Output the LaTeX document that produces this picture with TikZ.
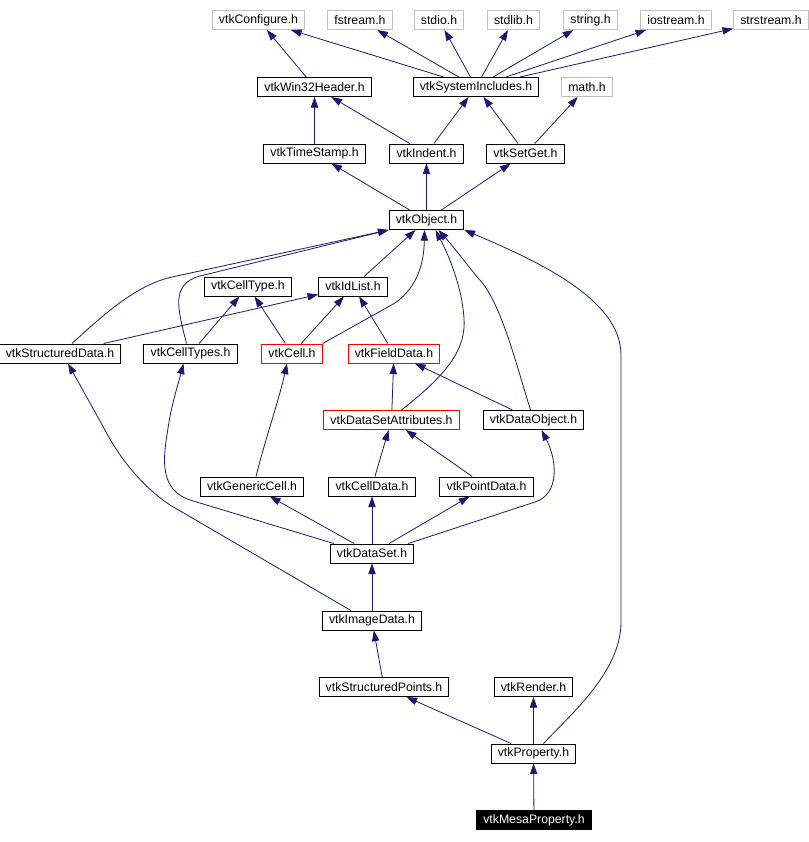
\documentclass[tikz,border=0pt]{standalone}
\usepackage{fontspec}
\setmainfont{Liberation Sans}
\usetikzlibrary{arrows.meta,calc}
\definecolor{dxedge}{HTML}{191970}
\definecolor{dxgray}{HTML}{BFBFBF}
\definecolor{dxred}{HTML}{FF0000}

\begin{document}
\begin{tikzpicture}[x=0.75pt,y=-0.75pt,
  hdr/.style={draw=black, line width=0.75pt, fill=white, inner xsep=5pt, inner ysep=0pt,
    minimum height=14.25pt, font=\fontsize{9.2}{11}\selectfont},
  syshdr/.style={hdr, draw=dxgray},
  badhdr/.style={hdr, draw=dxred},
  tophdr/.style={hdr, fill=black, text=white},
  dep/.style={draw=dxedge, line width=0.6pt, -{Triangle[length=8pt,width=5.5pt]}}]
  \useasboundingbox (0,0) rectangle (809,842);
  % system headers (top row)
  \node[syshdr] (conf) at (258.5,20) {vtkConfigure.h};
  \node[syshdr] (fstream) at (360,20) {fstream.h};
  \node[syshdr] (stdio) at (439,20) {stdio.h};
  \node[syshdr] (stdlib) at (513.5,20) {stdlib.h};
  \node[syshdr] (string) at (590.5,20) {string.h};
  \node[syshdr] (iostream) at (676,20) {iostream.h};
  \node[syshdr] (strstream) at (771,20) {strstream.h};
  % common headers
  \node[hdr] (win32) at (314.5,87) {vtkWin32Header.h};
  \node[hdr] (sysinc) at (476,87) {vtkSystemIncludes.h};
  \node[syshdr] (math) at (587,87) {math.h};
  \node[hdr] (tstamp) at (314.5,153.5) {vtkTimeStamp.h};
  \node[hdr] (indent) at (426.5,153.5) {vtkIndent.h};
  \node[hdr] (setget) at (525.5,153.5) {vtkSetGet.h};
  \node[hdr] (object) at (426.5,220) {vtkObject.h};
  % cells and data
  \node[hdr] (celltype) at (248,286.5) {vtkCellType.h};
  \node[hdr] (idlist) at (353,286.5) {vtkIdList.h};
  \node[hdr] (structdata) at (60,353.5) {vtkStructuredData.h};
  \node[hdr] (celltypes) at (190.5,353.5) {vtkCellTypes.h};
  \node[badhdr] (cell) at (292,353.5) {vtkCell.h};
  \node[badhdr] (fielddata) at (394,353.5) {vtkFieldData.h};
  \node[badhdr] (dsattr) at (391.5,420) {vtkDataSetAttributes.h};
  \node[hdr] (dataobj) at (533.5,420) {vtkDataObject.h};
  \node[hdr] (genericcell) at (252,486.5) {vtkGenericCell.h};
  \node[hdr] (celldata) at (372,486.5) {vtkCellData.h};
  \node[hdr] (pointdata) at (486.5,486.5) {vtkPointData.h};
  \node[hdr] (dataset) at (372,553.5) {vtkDataSet.h};
  \node[hdr] (imagedata) at (372,620.5) {vtkImageData.h};
  \node[hdr] (structpoints) at (384,687) {vtkStructuredPoints.h};
  \node[hdr] (render) at (533.5,687) {vtkRender.h};
  \node[hdr] (property) at (533.5,753.5) {vtkProperty.h};
  \node[tophdr] (mesa) at (534,820) {vtkMesaProperty.h};
  % straight includes
  \foreach \s/\t in {win32/conf,sysinc/conf,sysinc/fstream,sysinc/stdio,sysinc/stdlib,
      sysinc/string,sysinc/iostream,sysinc/strstream,tstamp/win32,indent/win32,indent/sysinc,
      setget/sysinc,setget/math,object/tstamp,object/indent,object/setget,idlist/object,
      celltypes/celltype,cell/celltype,cell/idlist,structdata/idlist,fielddata/idlist,
      dsattr/fielddata,dataobj/fielddata,celldata/dsattr,pointdata/dsattr,dataset/genericcell,
      dataset/celldata,dataset/pointdata,imagedata/dataset,structpoints/imagedata,
      property/structpoints,property/render,mesa/property}{ \draw[dep] (\s) -- (\t); }
  % bent includes
  \draw[dep] ($(structdata.north)+(12,0)$) .. controls (100,318) and (135,285) .. (172,277) -- (object.south west);
  \draw[dep] ($(celltypes.north)+(-4,0)$) .. controls (178,310) and (170,284) .. (200,276) -- (object.south west);
  \draw[dep] (cell.north east) -- (395,303) .. controls (418,287) and (424,262) .. ($(object.south)+(-2,0)$);
  \draw[dep] ($(dsattr.north)+(10,0)$) .. controls (450,372) and (466,348) .. (464,318)
    .. controls (462,288) and (450,258) .. ($(object.south)+(9,0)$);
  \draw[dep] ($(dataobj.north)+(-3,0)$) .. controls (515,360) and (500,300) .. (478,278)
    .. controls (465,262) and (452,245) .. ($(object.south)+(12,0)$);
  \draw[dep] ($(property.north)+(10,0)$) .. controls (570,715) and (621,672) .. (621,622) -- (621,355)
    .. controls (621,300) and (540,262) .. (object.south east);
  \draw[dep] ($(dataset.north west)+(4,0)$) -- (190,500) .. controls (160,490) and (163,460) .. (167,435)
    .. controls (171,405) and (178,385) .. ($(celltypes.south)+(-7,0)$);
  \draw[dep] ($(dataset.north east)+(-6,0)$) -- (535,502) .. controls (560,494) and (557,460) .. ($(dataobj.south)+(8,0)$);
  \draw[dep] ($(imagedata.north west)+(29,0)$) -- (170,505) .. controls (140,485) and (118,455) .. (105,430)
    -- ($(structdata.south)+(8,0)$);
  \draw[dep] ($(genericcell.north)+(4,0)$) .. controls (265,440) and (279,400) .. ($(cell.south)+(-5,0)$);
\end{tikzpicture}
\end{document}
